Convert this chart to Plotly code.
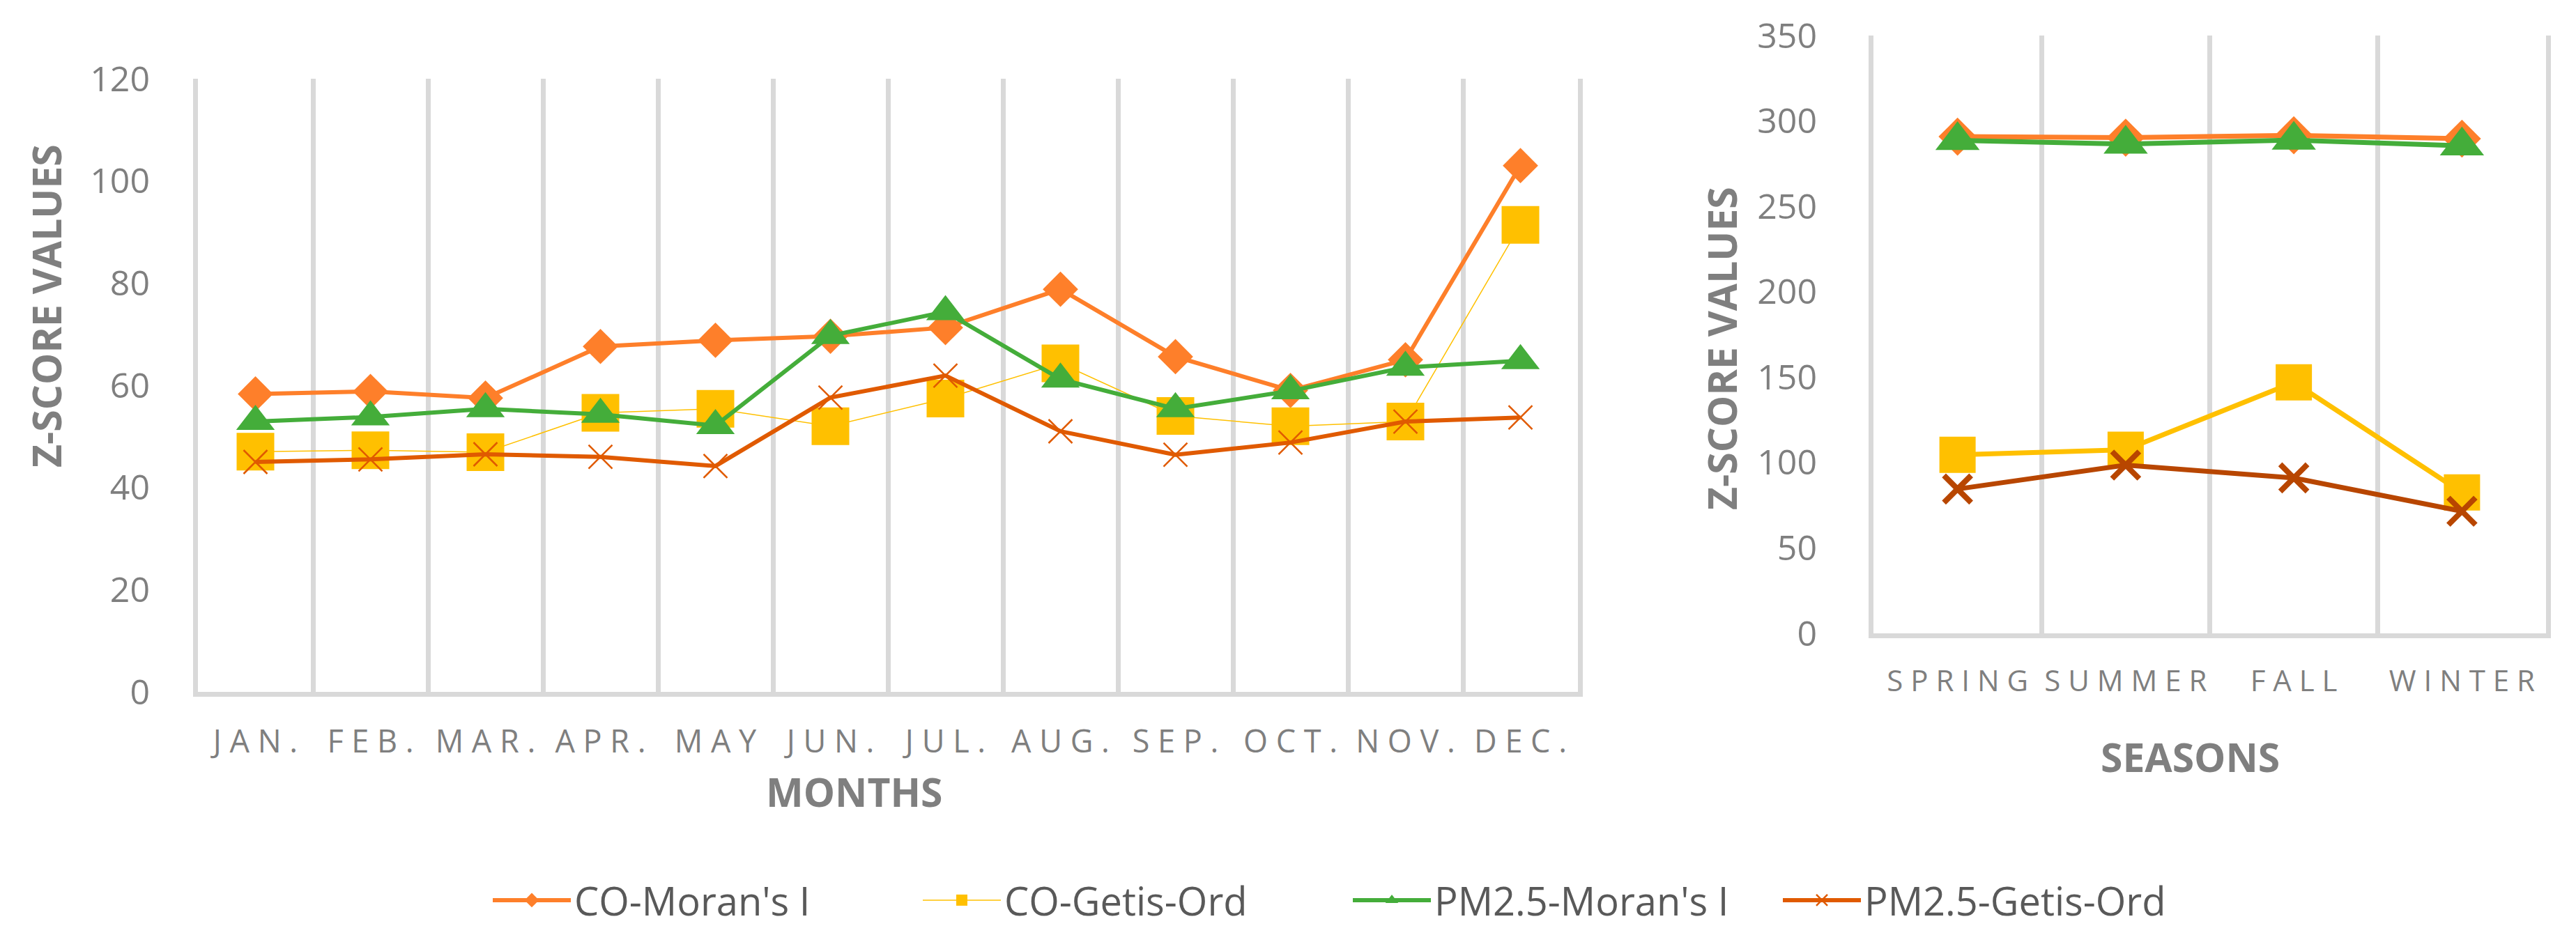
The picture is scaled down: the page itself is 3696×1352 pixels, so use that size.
import plotly.graph_objects as go

# ---------------- data ----------------
months = ["JAN.", "FEB.", "MAR.", "APR.", "MAY", "JUN.", "JUL.", "AUG.", "SEP.", "OCT.", "NOV.", "DEC."]
seasons = ["SPRING", "SUMMER", "FALL", "WINTER"]

co_moran_m = [58.3, 58.8, 57.5, 67.6, 68.8, 69.6, 71.3, 78.8, 65.6, 59.0, 65.0, 103.0]
co_getis_m = [47.0, 47.3, 46.9, 54.6, 55.4, 52.0, 57.4, 64.3, 54.0, 52.0, 52.9, 91.4]
pm_moran_m = [52.9, 53.8, 55.4, 54.3, 52.1, 69.7, 74.4, 61.2, 55.4, 58.9, 63.5, 64.8]
pm_getis_m = [45.0, 45.5, 46.5, 46.0, 44.2, 57.6, 61.9, 51.0, 46.4, 48.8, 52.9, 53.7]

co_moran_s = [290.8, 290.2, 291.6, 289.6]
co_getis_s = [104.5, 107.5, 147.0, 82.5]
pm_moran_s = [288.6, 286.5, 288.8, 285.4]
pm_getis_s = [84.5, 98.5, 91.0, 71.5]

series_names = ["CO-Moran's I", "CO-Getis-Ord", "PM2.5-Moran's I", "PM2.5-Getis-Ord"]

# ---------------- styling ----------------
C_ORANGE = "#FE7F2A"
C_YELLOW = "#FFC000"
C_GREEN = "#44AD3A"
C_DKOR = "#E05A00"
C_BROWN = "#B84600"
GRID = "#D9D9D9"
TXT = "#7F7F7F"
FONT = "Open Sans"

W, H = 3696, 1352
OFF = 8  # page body margin offset


def fx(px):
    return (px - OFF) / W


def fy(py):
    return 1 - (py - OFF) / H


def spaced(s):
    return " ".join(list(s))


mx = list(range(1, len(months) + 1))
sx = list(range(1, len(seasons) + 1))

fig = go.Figure()

# Left chart traces
fig.add_trace(go.Scatter(x=mx, y=co_moran_m, name=series_names[0], mode="lines+markers",
                         line=dict(color=C_ORANGE, width=6),
                         marker=dict(symbol="diamond", size=39, color=C_ORANGE),
                         xaxis="x", yaxis="y", legendgroup="a"))
fig.add_trace(go.Scatter(x=mx, y=co_getis_m, name=series_names[1], mode="lines+markers",
                         line=dict(color=C_YELLOW, width=1.5),
                         marker=dict(symbol="square", size=54, color=C_YELLOW),
                         xaxis="x", yaxis="y", legendgroup="b"))
fig.add_trace(go.Scatter(x=mx, y=pm_moran_m, name=series_names[2], mode="lines+markers",
                         line=dict(color=C_GREEN, width=6),
                         marker=dict(symbol="triangle-up", size=48, color=C_GREEN),
                         xaxis="x", yaxis="y", legendgroup="c"))
fig.add_trace(go.Scatter(x=mx, y=pm_getis_m, name=series_names[3], mode="lines+markers",
                         line=dict(color=C_DKOR, width=6),
                         marker=dict(symbol="x-thin", size=34, color=C_DKOR,
                                     line=dict(color=C_DKOR, width=2.5)),
                         xaxis="x", yaxis="y", legendgroup="d"))

# Right chart traces
fig.add_trace(go.Scatter(x=sx, y=co_moran_s, name=series_names[0], mode="lines+markers",
                         line=dict(color=C_ORANGE, width=7),
                         marker=dict(symbol="diamond", size=42, color=C_ORANGE),
                         xaxis="x2", yaxis="y2", showlegend=False, legendgroup="a"))
fig.add_trace(go.Scatter(x=sx, y=co_getis_s, name=series_names[1], mode="lines+markers",
                         line=dict(color=C_YELLOW, width=7),
                         marker=dict(symbol="square", size=52, color=C_YELLOW),
                         xaxis="x2", yaxis="y2", showlegend=False, legendgroup="b"))
fig.add_trace(go.Scatter(x=sx, y=pm_moran_s, name=series_names[2], mode="lines+markers",
                         line=dict(color=C_GREEN, width=7),
                         marker=dict(symbol="triangle-up", size=55, color=C_GREEN),
                         xaxis="x2", yaxis="y2", showlegend=False, legendgroup="c"))
fig.add_trace(go.Scatter(x=sx, y=pm_getis_s, name=series_names[3], mode="lines+markers",
                         line=dict(color=C_BROWN, width=7),
                         marker=dict(symbol="x-thin", size=39, color=C_BROWN,
                                     line=dict(color=C_BROWN, width=8)),
                         xaxis="x2", yaxis="y2", showlegend=False, legendgroup="d"))


def xaxis_cfg(n, labels, domain, fsize, standoff, anchor):
    return dict(
        domain=domain, range=[0.5, n + 0.5], tickmode="array", anchor=anchor,
        tickvals=list(range(1, n + 1)), ticktext=[spaced(l) for l in labels],
        showgrid=False, zeroline=False, showline=True, linecolor=GRID, linewidth=7,
        ticks="", tickfont=dict(family=FONT, size=fsize, color=TXT),
        ticklabelstandoff=standoff, automargin=False,
        minor=dict(tickmode="array", tickvals=[i + 0.5 for i in range(0, n + 1)],
                   showgrid=True, gridcolor=GRID, gridwidth=7, ticks=""),
        fixedrange=True,
    )


def yaxis_cfg(domain, rng, dtick, standoff, anchor):
    return dict(
        domain=domain, range=rng, dtick=dtick, tick0=0, showgrid=False, zeroline=False,
        showline=True, linecolor=GRID, linewidth=7, mirror=True,
        ticks="", anchor=anchor, automargin=False,
        tickfont=dict(family=FONT, size=50, color=TXT), ticklabelstandoff=standoff,
        fixedrange=True,
    )


fig.update_layout(
    width=W, height=H, margin=dict(l=0, r=0, t=0, b=0, pad=0, autoexpand=False),
    paper_bgcolor="white", plot_bgcolor="white",
    xaxis=xaxis_cfg(len(months), months, [fx(284), fx(2264)], 45, 26, "y"),
    yaxis=yaxis_cfg([fy(993), fy(113)], [0, 120], 20, 52, "x"),
    xaxis2=xaxis_cfg(len(seasons), seasons, [fx(2688), fx(3653)], 42, 26, "y2"),
    yaxis2=yaxis_cfg([fy(909), fy(51)], [0, 350], 50, 64, "x2"),
    legend=dict(orientation="h", x=fx(1936), xanchor="center", y=fy(1292), yanchor="middle",
                font=dict(family=FONT, size=56, color="#595959"), itemwidth=112,
                entrywidth=490, entrywidthmode="pixels",
                bgcolor="rgba(0,0,0,0)"),
    showlegend=True,
)

ann_font = dict(family=FONT, size=57, color=TXT, weight="bold")
fig.add_annotation(text="Z-SCORE VALUES", x=fx(66), y=fy(439), xref="paper", yref="paper",
                   textangle=-90, showarrow=False, font=ann_font, xanchor="center", yanchor="middle")
fig.add_annotation(text="Z-SCORE VALUES", x=fx(2470), y=fy(500), xref="paper", yref="paper",
                   textangle=-90, showarrow=False, font=ann_font, xanchor="center", yanchor="middle")
fig.add_annotation(text="MONTHS", x=fx(1225), y=fy(1136), xref="paper", yref="paper",
                   showarrow=False, font=ann_font, xanchor="center", yanchor="middle")
fig.add_annotation(text="SEASONS", x=fx(3142), y=fy(1086), xref="paper", yref="paper",
                   showarrow=False, font=ann_font, xanchor="center", yanchor="middle")

fig.write_html("out.html")
